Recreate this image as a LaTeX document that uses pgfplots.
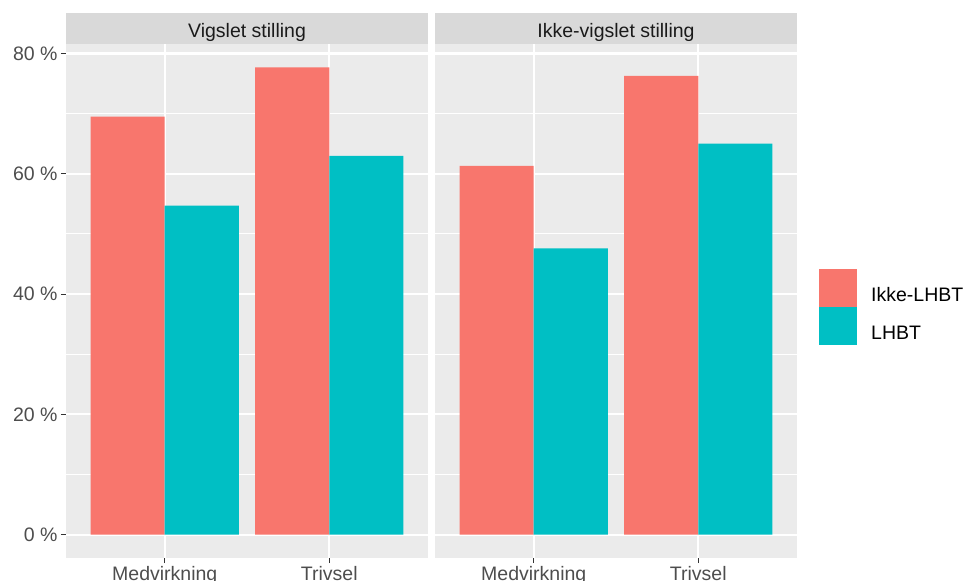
\documentclass[border=0pt]{standalone}
\usepackage{pgfplots}
\pgfplotsset{compat=1.18}
\usepackage{fontspec}
\setmainfont{Liberation Sans}
\definecolor{cIkke}{HTML}{F8766D}
\definecolor{cLHBT}{HTML}{00BFC4}
\definecolor{panelbg}{HTML}{EBEBEB}
\definecolor{stripbg}{HTML}{D9D9D9}
\definecolor{ticklab}{HTML}{4D4D4D}
\definecolor{tickcol}{HTML}{333333}
\definecolor{striptext}{HTML}{1A1A1A}
\newcommand{\gfont}{\fontsize{19.5}{23}\selectfont}
\pgfplotsset{
  facet/.style={
    scale only axis, width=362pt, height=514pt, anchor=south west,
    xmin=0.4, xmax=2.6, ymin=-3.885, ymax=81.585,
    axis x line*=bottom, axis y line*=left, axis line style={draw=none},
    axis background/.style={fill=panelbg},
    xtick={1,2}, xticklabels={Medvirkning,Trivsel},
    ytick={0,20,40,60,80}, minor ytick={10,30,50,70},
    xmajorgrids, ymajorgrids, yminorgrids,
    major grid style={white, line width=2.2pt},
    minor grid style={white, line width=1.1pt},
    tick align=outside, major tick length=5pt, minor tick length=0pt,
    tick style={tickcol, line width=1.1pt},
    ticklabel style={font=\gfont, text=ticklab},
  },
}
\begin{document}
\begin{tikzpicture}
\begin{axis}[facet, at={(66pt,23pt)},
  yticklabels={0 \%, 20 \%, 40 \%, 60 \%, 80 \%}]
\addplot[ybar, bar width=0.45, bar shift=-0.225, fill=cIkke, draw=none] coordinates {(1,69.5) (2,77.7)};
\addplot[ybar, bar width=0.45, bar shift=0.225, fill=cLHBT, draw=none] coordinates {(1,54.7) (2,63.0)};
\end{axis}
\begin{axis}[facet, at={(435pt,23pt)},
  yticklabels={}, ytick style={draw=none},
  legend style={draw=none, fill=none, at={(axis description cs:1.0608,0.5623)}, anchor=north west,
    inner sep=0pt, row sep=0pt, column sep=14pt, font=\gfont, nodes={inner sep=0pt, text=black}},
  legend cell align=left]
\addplot[ybar, bar width=0.45, bar shift=-0.225, fill=cIkke, draw=none,
  legend image code/.code={\fill[cIkke] (0pt,-12pt) rectangle (38pt,26pt);}] coordinates {(1,61.3) (2,76.3)};
\addlegendentry{Ikke-LHBT}
\addplot[ybar, bar width=0.45, bar shift=0.225, fill=cLHBT, draw=none,
  legend image code/.code={\fill[cLHBT] (0pt,-12pt) rectangle (38pt,26pt);}] coordinates {(1,47.6) (2,65.0)};
\addlegendentry{LHBT}
\end{axis}
\fill[stripbg] (66pt,537pt) rectangle (428pt,568pt);
\fill[stripbg] (435pt,537pt) rectangle (797pt,568pt);
\node[anchor=base, inner sep=0pt, text=striptext, font=\gfont] at (247pt,543.5pt) {Vigslet stilling};
\node[anchor=base, inner sep=0pt, text=striptext, font=\gfont] at (616pt,543.5pt) {Ikke-vigslet stilling};
\pgfresetboundingbox
\useasboundingbox (0pt,0pt) rectangle (964pt,581pt);
\end{tikzpicture}
\end{document}
